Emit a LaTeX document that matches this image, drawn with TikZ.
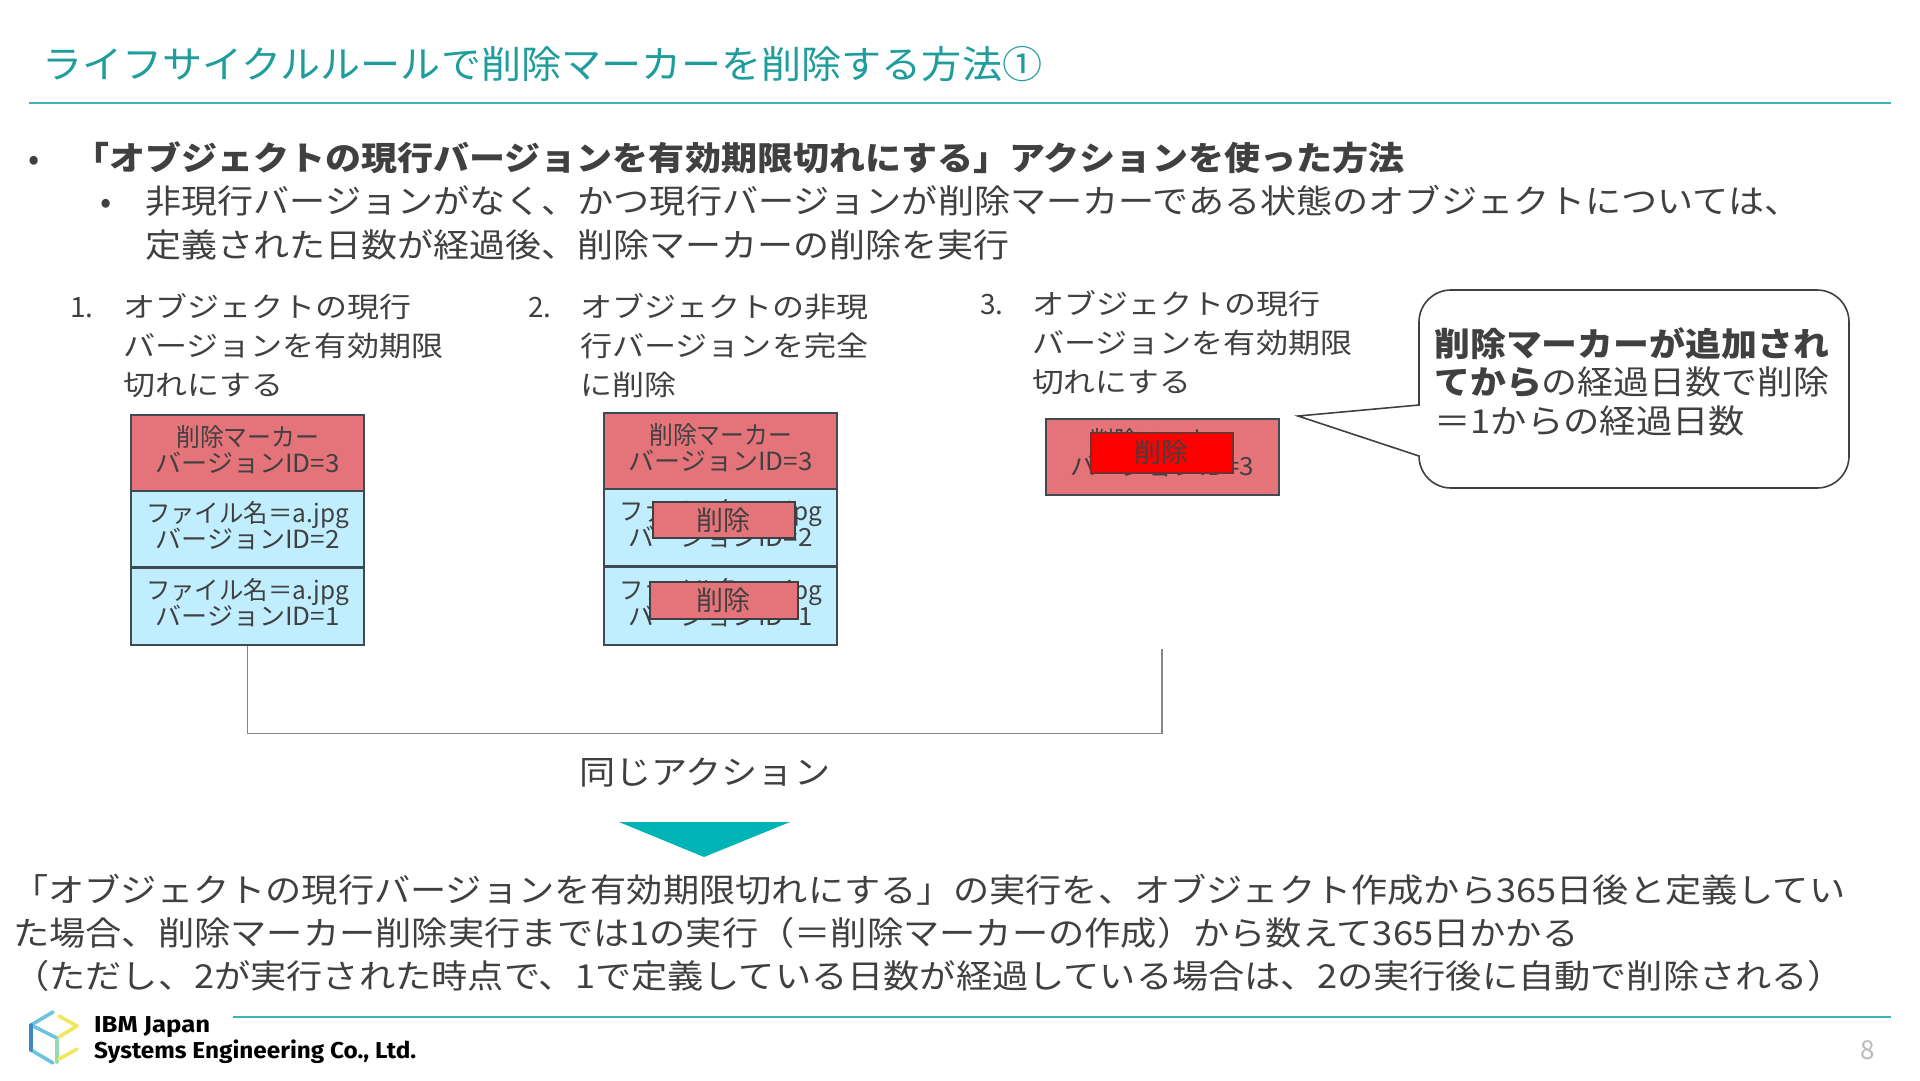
\documentclass[tikz,border=0pt]{standalone}
\usepackage{fontspec}
\usepackage{graphicx}
\setmainfont{Noto Sans CJK JP}
\newfontfamily\logofont{Fira Sans}
\definecolor{teal1}{HTML}{1F9C9C}
\definecolor{rulec}{HTML}{3DB3B8}
\definecolor{tx}{HTML}{404040}
\definecolor{redb}{HTML}{E4737A}
\definecolor{blub}{HTML}{C1EEFF}
\definecolor{edgeb}{HTML}{3F4A52}
\definecolor{tri}{HTML}{00B3B5}
\definecolor{lgA}{HTML}{6CC3DE}
\definecolor{lgB}{HTML}{3F87C9}
\definecolor{lgC}{HTML}{9AD8B0}
\definecolor{lgD}{HTML}{F0E85A}
\newcommand\fit[2]{\resizebox{#1pt}{\height}{#2}}
\newcommand\fz[1]{\fontsize{#1}{#1}\selectfont}
\newcommand\dnstrut{\rule[-9pt]{0pt}{9pt}}
\newcommand\boxfont{\fontsize{25}{26}\selectfont\setlength{\lineskiplimit}{-100pt}}
\tikzset{
  txt/.style={anchor=base west,inner sep=0pt,text=tx},
  boxt/.style={draw=edgeb,line width=2.4pt,minimum width=233pt,inner sep=0pt,align=center,text=tx,font=\boxfont,anchor=north west},
  delbox/.style={draw=tx,line width=1.6pt,fill=redb,inner sep=0pt,text=tx,font=\fz{27},anchor=north west},
  rulel/.style={draw=rulec,line width=1.8pt},
}
\begin{document}
\begin{tikzpicture}[x=1pt,y=-1pt]
\useasboundingbox (0,0) rectangle (1920,1080);
% rules
\coordinate (rt1) at (29,103); \coordinate (rt2) at (1891,103);
\coordinate (rb1) at (233,1017); \coordinate (rb2) at (1891,1017);
\draw[rulel] (rt1) -- (rt2);
\draw[rulel] (rb1) -- (rb2);
% title
\node[txt,text=teal1,font=\fz{38}] (title) at (42,78) {\fit{1000}{ライフサイクルルールで削除マーカーを削除する方法①}};
% heading
\node[txt,font=\fz{33}] (b1) at (28,170) {•};
\node[txt,font=\fz{33}\bfseries] (l1) at (73,170) {\fit{1331}{「オブジェクトの現行バージョンを有効期限切れにする」アクションを使った方法}};
\node[txt,font=\fz{33}] (b2) at (100,213) {•};
\node[txt,font=\fz{33}] (l2) at (145,213) {\fit{1655}{非現行バージョンがなく、かつ現行バージョンが削除マーカーである状態のオブジェクトについては、}};
\node[txt,font=\fz{33}] (l3) at (145,257) {\fit{864}{定義された日数が経過後、削除マーカーの削除を実行}};
% list 1
\node[txt,font=\fz{28}] (n1) at (70,317) {1.};
\node[txt,font=\fz{28}] (a1) at (123,317) {\fit{288}{オブジェクトの現行}};
\node[txt,font=\fz{28}] (a2) at (123,356) {\fit{320}{バージョンを有効期限}};
\node[txt,font=\fz{28}] (a3) at (123,395) {\fit{160}{切れにする}};
% list 2
\node[txt,font=\fz{28}] (n2) at (528,317) {2.};
\node[txt,font=\fz{28}] (c1) at (580,317) {\fit{288}{オブジェクトの非現}};
\node[txt,font=\fz{28}] (c2) at (580,356) {\fit{288}{行バージョンを完全}};
\node[txt,font=\fz{28}] (c3) at (580,395) {\fit{96}{に削除}};
% list 3
\node[txt,font=\fz{28}] (n3) at (980,314) {3.};
\node[txt,font=\fz{28}] (d1) at (1032,314) {\fit{288}{オブジェクトの現行}};
\node[txt,font=\fz{28}] (d2) at (1032,353) {\fit{320}{バージョンを有効期限}};
\node[txt,font=\fz{28}] (d3) at (1032,392) {\fit{159}{切れにする}};
% stack 1
\node[boxt,fill=redb,minimum height=76pt] (s1a) at (130,414) {\fit{143}{削除マーカー}\\\fit{184}{バージョンID=3}\dnstrut};
\node[boxt,fill=blub,minimum height=76pt] (s1b) at (130,490) {\fit{203}{ファイル名＝a.jpg}\\\fit{184}{バージョンID=2}\dnstrut};
\node[boxt,fill=blub,minimum height=77pt] (s1c) at (130,567) {\fit{203}{ファイル名＝a.jpg}\\\fit{184}{バージョンID=1}\dnstrut};
% stack 2
\node[boxt,fill=redb,minimum height=76pt] (s2a) at (603,412) {\fit{143}{削除マーカー}\\\fit{184}{バージョンID=3}\dnstrut};
\node[boxt,fill=blub,minimum height=77pt] (s2b) at (603,488) {\fit{203}{ファイル名＝a.jpg}\\\fit{184}{バージョンID=2}\dnstrut};
\node[boxt,fill=blub,minimum height=78pt] (s2c) at (603,566) {\fit{203}{ファイル名＝a.jpg}\\\fit{184}{バージョンID=1}\dnstrut};
\node[delbox,minimum width=142pt,minimum height=36pt] (del1) at (652,501) {\raisebox{2pt}{\fit{54}{削除}}};
\node[delbox,minimum width=148pt,minimum height=37pt] (del2) at (649,581) {\raisebox{2pt}{\fit{54}{削除}}};
% stack 3
\node[boxt,fill=redb,minimum height=76pt,line width=1.6pt] (s3a) at (1045,418) {\fit{143}{削除マーカー}\\\fit{184}{バージョンID=3}\dnstrut};
\node[delbox,fill=red,draw=tx!70!red,minimum width=142pt,minimum height=40pt] (del3) at (1090,432) {\raisebox{3pt}{\fit{54}{削除}}};
% callout
\coordinate (tip) at (1298,416);
\draw[draw=tx,fill=white,line width=1.6pt,line join=miter] (tip) -- (1419,405) -- (1419,322) arc[start angle=180,end angle=270,radius=32] -- (1817,290) arc[start angle=270,end angle=360,radius=32] -- (1849,456) arc[start angle=0,end angle=90,radius=32] -- (1451,488) arc[start angle=90,end angle=180,radius=32] -- cycle;
\node[txt,font=\fz{33}\bfseries] (e1) at (1434,356) {\fit{395}{削除マーカーが追加され}};
\node[txt,font=\fz{33}] (e2) at (1434,394) {\fit{395}{\textbf{てから}の経過日数で削除}};
\node[txt,font=\fz{33}] (e3) at (1434,433) {\fit{311}{＝1からの経過日数}};
% bracket
\coordinate (brk) at (1162,649);
\draw[draw=gray!95,line width=1.2pt] (s1c.south) -- ++(0,87) -| (brk);
\node[txt,font=\fz{33}] (same) at (579,784) {\fit{251}{同じアクション}};
% triangle
\coordinate (t1) at (619,822); \coordinate (t2) at (790,822); \coordinate (t3) at (704,857);
\fill[tri] (t1) -- (t2) -- (t3) -- cycle;
% bottom text
\node[txt,font=\fz{33}] (f1) at (12,902) {\fit{1833}{「オブジェクトの現行バージョンを有効期限切れにする」の実行を、オブジェクト作成から365日後と定義してい}};
\node[txt,font=\fz{33}] (f2) at (13,945) {\fit{1565}{た場合、削除マーカー削除実行までは1の実行（＝削除マーカーの作成）から数えて365日かかる}};
\node[txt,font=\fz{33}] (f3) at (13,988) {\fit{1831}{（ただし、2が実行された時点で、1で定義している日数が経過している場合は、2の実行後に自動で削除される）}};
% logo
\begin{scope}[line width=3.6pt,line cap=round,line join=round]
\draw[draw=lgA] (53,1012) -- (31,1025) -- (57,1038);
\draw[draw=lgA] (31,1050) -- (53,1063);
\draw[draw=lgB] (31,1025) -- (31,1050);
\draw[draw=lgC] (57,1040) -- (57,1062);
\draw[draw=lgD] (59,1016) -- (77,1026) -- (59,1037);
\draw[draw=lgD] (59,1059) -- (77,1049);
\end{scope}
\node[txt,text=black,font=\fz{23}\logofont\bfseries] (g1) at (94,1032) {\fit{116}{IBM Japan}};
\node[txt,text=black,font=\fz{23}\logofont\bfseries] (g2) at (94,1058) {\fit{322}{Systems Engineering Co., Ltd.}};
\node[txt,text=gray!55,font=\fz{26}] (pg) at (1860,1059) {8};
\end{tikzpicture}
\end{document}
